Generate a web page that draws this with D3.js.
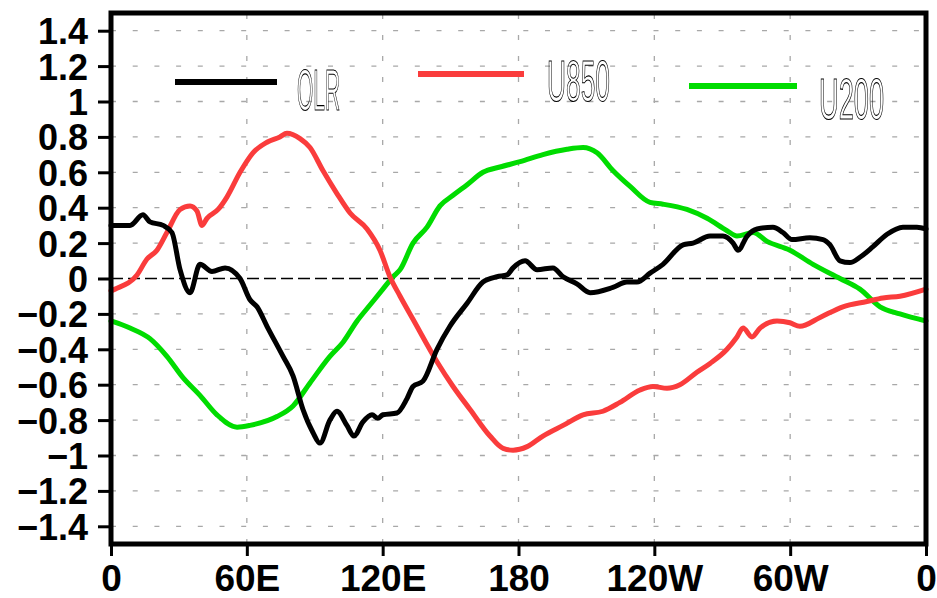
<!DOCTYPE html>
<html>
<head>
<meta charset="utf-8">
<script src="https://cdn.jsdelivr.net/npm/d3@7"></script>
<style>
  html, body { margin: 0; padding: 0; background: #fff; }
  svg { display: block; }
</style>
</head>
<body>
<div id="chart"></div>
<script>
// longitudes (0..360) and values
const olrLon = [0, 1.8, 8.4, 14.1, 17.2, 23.0, 26.9, 30.5, 34.9, 39.3, 44.6, 50.4, 57.0, 61.4, 64.5, 68.9, 76.0, 80.4, 84.8, 89.2, 92.3, 96.7, 99.8, 104.2, 107.3, 111.3, 115.3, 117.9, 120.1, 126.3, 130.7, 133.4, 137.8, 144.0, 149.7, 157.3, 164.3, 170.5, 174.9, 177.6, 182.9, 188.2, 195.2, 199.7, 205.8, 211.6, 221.7, 227.9, 232.3, 238.1, 243.8, 252.7, 257.1, 264.6, 270.3, 274.8, 277.0, 281.0, 285.4, 292.4, 296.8, 300.8, 308.7, 314.5, 317.6, 322.0, 326.4, 330.8, 336.6, 342.8, 349.8, 356.0, 360];
const olrVal = [0.30, 0.30, 0.30, 0.36, 0.32, 0.30, 0.26, 0.05, -0.08, 0.08, 0.04, 0.06, 0.00, -0.12, -0.16, -0.27, -0.44, -0.55, -0.74, -0.87, -0.93, -0.80, -0.75, -0.83, -0.89, -0.81, -0.77, -0.79, -0.77, -0.76, -0.68, -0.61, -0.58, -0.40, -0.27, -0.14, -0.02, 0.01, 0.02, 0.06, 0.10, 0.05, 0.06, 0.01, -0.03, -0.08, -0.05, -0.02, -0.02, 0.03, 0.08, 0.19, 0.20, 0.24, 0.24, 0.20, 0.16, 0.24, 0.28, 0.29, 0.26, 0.22, 0.23, 0.22, 0.19, 0.10, 0.09, 0.12, 0.18, 0.25, 0.29, 0.29, 0.28];

const u850Lon = [0, 1.8, 11.5, 15.9, 20.3, 24.7, 30.5, 34.9, 38.0, 40.2, 42.4, 47.3, 51.2, 57.0, 62.7, 68.9, 74.6, 77.7, 83.5, 87.9, 93.6, 99.8, 105.6, 113.1, 118.8, 123.2, 127.7, 133.4, 144.0, 151.1, 158.6, 167.4, 173.2, 177.6, 183.8, 190.8, 199.7, 208.5, 217.3, 224.8, 233.7, 239.4, 245.6, 251.3, 258.8, 264.6, 272.1, 276.5, 279.2, 283.1, 286.7, 294.2, 299.9, 304.3, 313.2, 323.3, 333.9, 341.0, 348.5, 360];
const u850Val = [-0.07, -0.06, 0.02, 0.11, 0.16, 0.26, 0.39, 0.41, 0.38, 0.30, 0.34, 0.39, 0.46, 0.60, 0.71, 0.77, 0.80, 0.82, 0.79, 0.74, 0.61, 0.48, 0.37, 0.28, 0.16, 0.01, -0.10, -0.23, -0.47, -0.61, -0.74, -0.89, -0.96, -0.97, -0.95, -0.89, -0.83, -0.77, -0.75, -0.70, -0.63, -0.61, -0.62, -0.60, -0.53, -0.48, -0.40, -0.33, -0.28, -0.33, -0.28, -0.24, -0.25, -0.27, -0.22, -0.16, -0.13, -0.11, -0.10, -0.06];

const u200Lon = [0, 8.4, 17.2, 24.7, 31.8, 39.3, 46.8, 55.7, 61.4, 73.3, 80.4, 87.9, 96.7, 102.5, 108.7, 114.4, 120.1, 124.6, 127.7, 133.4, 139.6, 145.3, 151.1, 157.3, 164.3, 171.8, 180.7, 190.8, 201.4, 208.5, 214.7, 221.7, 229.3, 238.1, 243.8, 254.4, 263.3, 272.1, 276.5, 283.6, 289.8, 299.9, 310.1, 322.0, 330.8, 339.7, 348.5, 360];
const u200Val = [-0.24, -0.28, -0.34, -0.44, -0.56, -0.66, -0.77, -0.84, -0.83, -0.78, -0.72, -0.59, -0.44, -0.36, -0.24, -0.15, -0.06, 0.01, 0.05, 0.20, 0.29, 0.41, 0.47, 0.53, 0.60, 0.63, 0.66, 0.70, 0.73, 0.74, 0.71, 0.61, 0.52, 0.43, 0.42, 0.39, 0.34, 0.27, 0.24, 0.26, 0.21, 0.16, 0.08, 0.00, -0.06, -0.16, -0.20, -0.24];

const xTicks = [0, 60, 120, 180, 240, 300, 360];
const xTickLabels = ["0", "60E", "120E", "180", "120W", "60W", "0"];
const yTicks = [-1.4, -1.2, -1, -0.8, -0.6, -0.4, -0.2, 0, 0.2, 0.4, 0.6, 0.8, 1, 1.2, 1.4];

const seriesNames = ["OLR", "U850", "U200"];
const seriesColors = ["#000000", "rgb(250,60,60)", "rgb(0,220,0)"];

const W = 937, H = 598;
const x0 = 111, x1 = 926, yTop = 13, yBot = 544;

const svg = d3.select("#chart").append("svg")
  .attr("width", W).attr("height", H);

const x = d3.scaleLinear().domain([0, 360]).range([x0, x1]);
const y = d3.scaleLinear().domain([-1.5, 1.5]).range([yBot, yTop]);

// grey dotted grid
const grid = svg.append("g").attr("stroke", "#a8a8a8").attr("stroke-width", 1.3);
yTicks.filter(v => v !== 0).forEach(v => {
  grid.append("line")
    .attr("x1", x0).attr("x2", x1)
    .attr("y1", y(v)).attr("y2", y(v))
    .attr("stroke-dasharray", "5,16.7");
});
xTicks.slice(1, -1).forEach(v => {
  grid.append("line")
    .attr("x1", x(v)).attr("x2", x(v))
    .attr("y1", yBot).attr("y2", yTop)
    .attr("stroke-dasharray", "5,16");
});

// zero line
svg.append("line")
  .attr("x1", x0).attr("x2", x1)
  .attr("y1", y(0)).attr("y2", y(0))
  .attr("stroke", "#000").attr("stroke-width", 1.6)
  .attr("stroke-dasharray", "12,5");

// curves
const series = [
  { lon: olrLon, val: olrVal },
  { lon: u850Lon, val: u850Val },
  { lon: u200Lon, val: u200Val }
];
const line = d3.line()
  .x(d => x(d[0]))
  .y(d => y(d[1]))
  .curve(d3.curveMonotoneX);

// draw green, red, then black on top
[2, 1, 0].forEach(i => {
  const pts = series[i].lon.map((l, k) => [l, series[i].val[k]]);
  svg.append("path")
    .datum(pts)
    .attr("d", line)
    .attr("fill", "none")
    .attr("stroke", seriesColors[i])
    .attr("stroke-width", 5)
    .attr("stroke-linejoin", "round")
    .attr("stroke-linecap", "round");
});

// frame
svg.append("rect")
  .attr("x", x0).attr("y", yTop)
  .attr("width", x1 - x0).attr("height", yBot - yTop)
  .attr("fill", "none").attr("stroke", "#000").attr("stroke-width", 5);

// axes
const yAxis = d3.axisLeft(y).tickValues(yTicks).tickSize(11).tickPadding(10)
  .tickFormat(d => d3.format("")(Math.round(d * 10) / 10).replace("-", "\u2212"));
const gy = svg.append("g").attr("transform", `translate(${x0 - 2},0)`).call(yAxis);
gy.select(".domain").remove();
gy.selectAll(".tick line").attr("stroke", "#000").attr("stroke-width", 3);
gy.selectAll(".tick text")
  .attr("fill", "#000")
  .style("font-family", "'Liberation Sans', Arial, sans-serif")
  .style("font-size", "36px")
  .style("font-weight", "bold")
  .attr("dy", "0.36em");

const xAxis = d3.axisBottom(x).tickValues(xTicks).tickSize(10).tickPadding(8)
  .tickFormat((d, i) => xTickLabels[i]);
const gx = svg.append("g").attr("transform", `translate(0,${yBot + 2})`).call(xAxis);
gx.select(".domain").remove();
gx.selectAll(".tick line").attr("stroke", "#000").attr("stroke-width", 3);
gx.selectAll(".tick text")
  .attr("fill", "#000")
  .attr("dy", "0.72em")
  .style("font-family", "'Liberation Sans Narrow', 'Liberation Sans', sans-serif")
  .style("font-size", "37px")
  .style("font-weight", "bold");

// legend
const legLines = [[175, 277, 82], [418, 524, 74], [689, 797, 86]];
const legText = [[297, 110, 43], [547, 101, 63], [819, 119, 65]];
seriesNames.forEach((name, i) => {
  const [lx0, lx1, ly] = legLines[i];
  svg.append("line")
    .attr("x1", lx0).attr("x2", lx1).attr("y1", ly).attr("y2", ly)
    .attr("stroke", seriesColors[i]).attr("stroke-width", 6);
  const [tx, ty, tw] = legText[i];
  svg.append("text")
    .attr("x", tx).attr("y", ty)
    .attr("textLength", tw).attr("lengthAdjust", "spacingAndGlyphs")
    .style("font-family", "'Liberation Sans Narrow', 'Liberation Sans', sans-serif")
    .style("font-size", "58px")
    .style("filter", "grayscale(1)")
    .attr("fill", "none")
    .attr("stroke", "#000")
    .attr("stroke-width", 1.1)
    .text(name);
});
</script>
</body>
</html>
